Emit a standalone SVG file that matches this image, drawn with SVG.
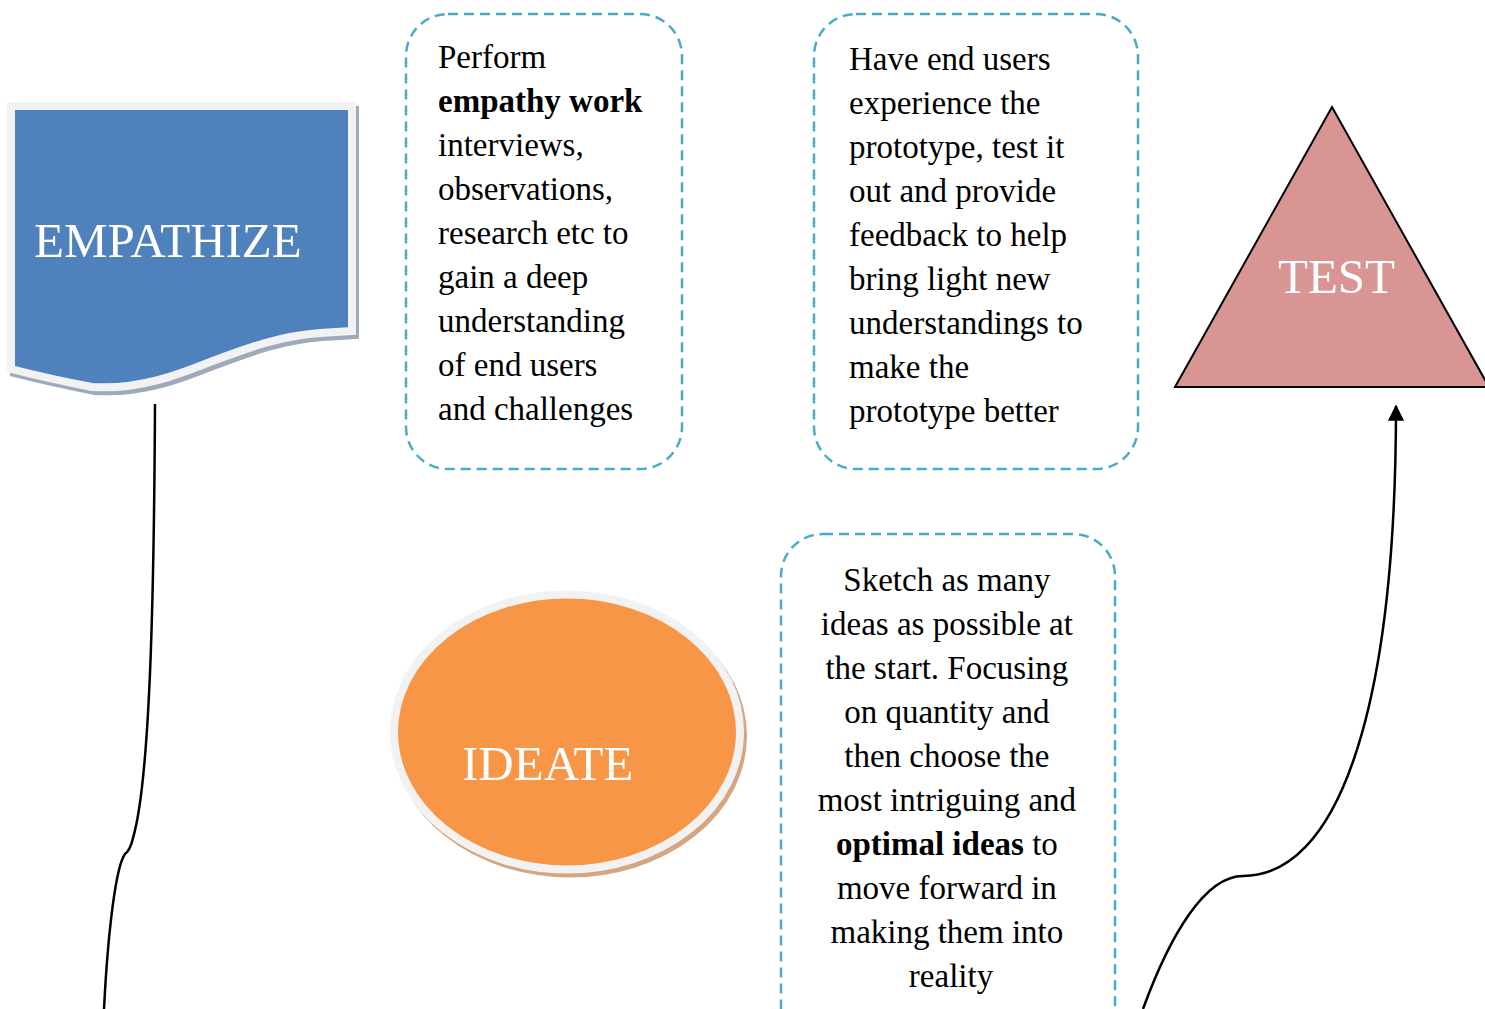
<svg xmlns="http://www.w3.org/2000/svg" width="1485" height="1009" viewBox="0 0 1485 1009">
<defs>
<style>
.lbl{font-family:"Liberation Serif","Times New Roman",serif;font-size:49px;fill:#ffffff}
.txt{font-family:"Liberation Serif","Times New Roman",serif;font-size:33px;fill:#000000}
.dash{fill:none;stroke:#4bacc6;stroke-width:2.5;stroke-dasharray:10 6}
.conn{fill:none;stroke:#000000;stroke-width:2.5}
</style>
<marker id="arr" viewBox="0 0 10 10" refX="9" refY="5" markerWidth="6.5" markerHeight="6.5" orient="auto" markerUnits="strokeWidth">
<path d="M0,0 L10,5 L0,10 Z" fill="#000"/>
</marker>
</defs>
<rect width="1485" height="1009" fill="#ffffff"/>

<g id="empathize">
<path d="M11,106 L352,106 L352,331 L320,333 C280,336 250,347 210,362 C180,374 140,390 92,387 Q50,379 11,369 Z" transform="translate(3,4)" fill="#9eaabb" stroke="#9eaabb" stroke-width="8" stroke-linejoin="miter"/>
<path d="M11,106 L352,106 L352,331 L320,333 C280,336 250,347 210,362 C180,374 140,390 92,387 Q50,379 11,369 Z" fill="#4f81bd" stroke="#f2f2f2" stroke-width="8" stroke-linejoin="miter"/>
<text class="lbl" x="34" y="257">EMPATHIZE</text>
</g>

<g id="ideate">
<ellipse cx="570" cy="736" rx="173" ry="137.5" fill="#d5a681" stroke="#d5a681" stroke-width="8"/>
<ellipse cx="567" cy="732" rx="173" ry="137.5" fill="#f79646" stroke="#f2f2f2" stroke-width="8"/>
<text class="lbl" x="462" y="780">IDEATE</text>
</g>

<g id="test">
<polygon points="1332,107 1175,387 1489,387" fill="#d99594" stroke="#000" stroke-width="2"/>
<text class="lbl" x="1278" y="293">TEST</text>
</g>

<g id="note-empathize">
<rect class="dash" x="406" y="14" width="276" height="455" rx="42" ry="42"/>
<text class="txt">
<tspan x="438" y="68">Perform</tspan>
<tspan x="438" y="112" font-weight="bold">empathy work</tspan>
<tspan x="438" y="156">interviews,</tspan>
<tspan x="438" y="200">observations,</tspan>
<tspan x="438" y="244">research etc to</tspan>
<tspan x="438" y="288">gain a deep</tspan>
<tspan x="438" y="332">understanding</tspan>
<tspan x="438" y="376">of end users</tspan>
<tspan x="438" y="420">and challenges</tspan>
</text>
</g>

<g id="note-test">
<rect class="dash" x="814" y="14" width="324" height="455" rx="42" ry="42"/>
<text class="txt">
<tspan x="849" y="70">Have end users</tspan>
<tspan x="849" y="114">experience the</tspan>
<tspan x="849" y="158">prototype, test it</tspan>
<tspan x="849" y="202">out and provide</tspan>
<tspan x="849" y="246">feedback to help</tspan>
<tspan x="849" y="290">bring light new</tspan>
<tspan x="849" y="334">understandings to</tspan>
<tspan x="849" y="378">make the</tspan>
<tspan x="849" y="422">prototype better</tspan>
</text>
</g>

<g id="note-ideate">
<rect class="dash" x="781" y="534" width="334" height="520" rx="42" ry="42"/>
<text class="txt" text-anchor="middle">
<tspan x="951" y="591">Sketch as many</tspan>
<tspan x="951" y="635">ideas as possible at</tspan>
<tspan x="951" y="679">the start. Focusing</tspan>
<tspan x="951" y="723">on quantity and</tspan>
<tspan x="951" y="767">then choose the</tspan>
<tspan x="951" y="811">most intriguing and</tspan>
<tspan x="951" y="855"><tspan font-weight="bold">optimal ideas</tspan> to</tspan>
<tspan x="951" y="899">move forward in</tspan>
<tspan x="951" y="943">making them into</tspan>
<tspan x="951" y="987">reality</tspan>
</text>
</g>

<g id="connectors">
<path class="conn" d="M155,404 C154,600 150,780 133,838 C131,847 129,851 125,854 C116,866 108,930 104,1009"/>
<path class="conn" d="M1143,1009 C1170,935 1205,876 1243,876 C1335,876 1396,720 1396,406" marker-end="url(#arr)"/>
</g>
</svg>
